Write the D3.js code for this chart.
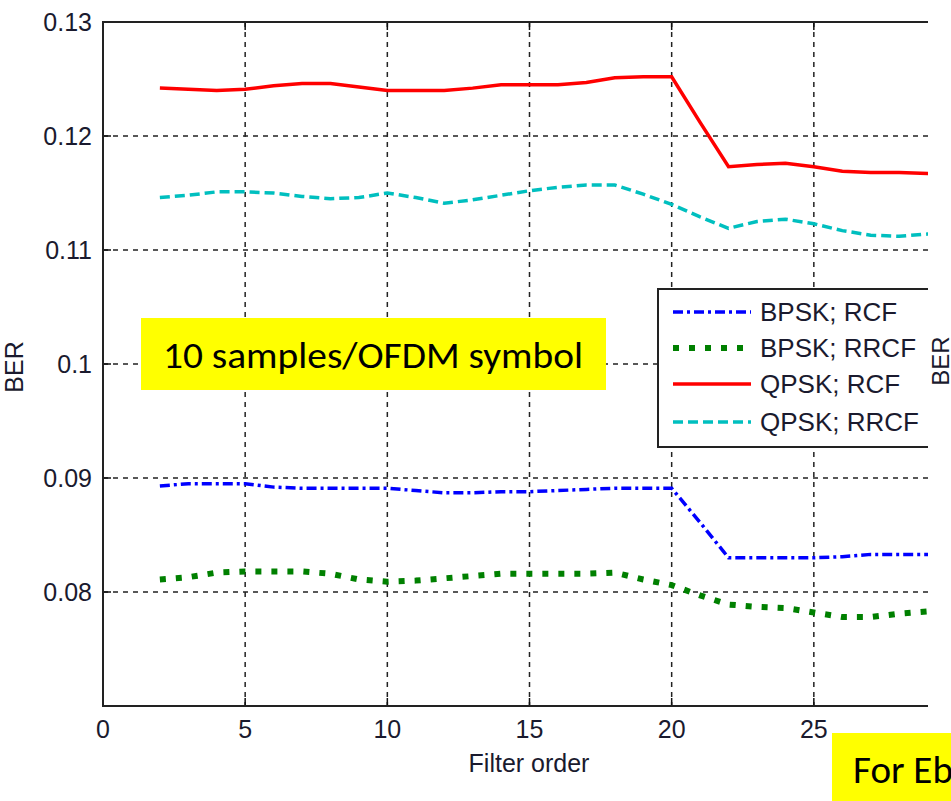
<!DOCTYPE html>
<html>
<head>
<meta charset="utf-8">
<script src="https://cdn.jsdelivr.net/npm/d3@7"></script>
<style>
  body { margin: 0; background: #fff; }
  svg { display: block; }
</style>
</head>
<body>
<div id="chart"></div>
<script>
// Filter orders (x values) and BER for each curve
const filterOrder = [2, 3, 4, 5, 6, 7, 8, 9, 10, 11, 12, 13, 14, 15, 16, 17, 18, 19, 20, 21, 22, 23, 24, 25, 26, 27, 28, 29, 30];

const bpskRcf = [0.0893, 0.0895, 0.0895, 0.0895, 0.0892, 0.0891, 0.0891, 0.0891, 0.0891, 0.0889, 0.0887, 0.0887, 0.0888, 0.0888, 0.0889,
    0.0890, 0.0891, 0.0891, 0.0891, 0.0861, 0.0830, 0.0830, 0.0830, 0.0830, 0.0831, 0.0833, 0.0833, 0.0833, 0.0833];
const bpskRrcf = [0.0811, 0.0813, 0.0817, 0.0818, 0.0818, 0.0818, 0.0816, 0.0811, 0.0809, 0.0810, 0.0812, 0.0814, 0.0816, 0.0816, 0.0816,
    0.0816, 0.0817, 0.0811, 0.0806, 0.0797, 0.0789, 0.0787, 0.0786, 0.0782, 0.0778, 0.0778, 0.0781, 0.0783, 0.0783];
const qpskRcf = [0.1242, 0.1241, 0.1240, 0.1241, 0.1244, 0.1246, 0.1246, 0.1243, 0.1240, 0.1240, 0.1240, 0.1242, 0.1245, 0.1245, 0.1245,
    0.1247, 0.1251, 0.1252, 0.1252, 0.1212, 0.1173, 0.1175, 0.1176, 0.1173, 0.1169, 0.1168, 0.1168, 0.1167, 0.1167];
const qpskRrcf = [0.1146, 0.1148, 0.1151, 0.1151, 0.1150, 0.1147, 0.1145, 0.1146, 0.1150, 0.1146, 0.1141, 0.1144, 0.1148, 0.1152, 0.1155,
    0.1157, 0.1157, 0.1149, 0.1140, 0.1129, 0.1119, 0.1125, 0.1127, 0.1123, 0.1117, 0.1113, 0.1112, 0.1114, 0.1116];

const seriesNames = ["BPSK; RCF", "BPSK; RRCF", "QPSK; RCF", "QPSK; RRCF"];

// Tick values and labels
const xTicks = [0, 5, 10, 15, 20, 25];
const yTicks = [0.13, 0.12, 0.11, 0.1, 0.09, 0.08];
const yTickLabels = ["0.13", "0.12", "0.11", "0.1", "0.09", "0.08"];

// Line styles per series
const styles = [
    { color: "#0000ff", width: 3.5, dash: "10,4,3,4" },
    { color: "#008000", width: 6, dash: "6,10" },
    { color: "#ff0000", width: 3.5, dash: null },
    { color: "#00bfbf", width: 3.5, dash: "10,5" }
];

const width = 951, height = 801;
const font = "'Liberation Sans', Arial, sans-serif";

const svg = d3.select('#chart').append('svg')
    .attr('width', width)
    .attr('height', height);

// Plot area (image is cropped on the right at x = 928)
const x = d3.scaleLinear().domain([0, 30]).range([103, 956]);
const y = d3.scaleLinear().domain([0.07, 0.13]).range([706, 22]);
const cropRight = 928;

svg.append('defs').append('clipPath').attr('id', 'crop')
    .append('rect').attr('x', 0).attr('y', 0).attr('width', cropRight).attr('height', height);

const g = svg.append('g').attr('clip-path', 'url(#crop)');

// Grid lines
g.selectAll('.vgrid').data(xTicks.filter(d => d > 0))
    .enter().append('line')
    .attr('x1', d => x(d)).attr('x2', d => x(d))
    .attr('y1', y(0.13)).attr('y2', y(0.07))
    .attr('stroke', '#222').attr('stroke-width', 1.5).attr('stroke-dasharray', '5,5');

g.selectAll('.hgrid').data(yTicks.filter(d => d < 0.13))
    .enter().append('line')
    .attr('x1', x(0)).attr('x2', x(30))
    .attr('y1', d => y(d)).attr('y2', d => y(d))
    .attr('stroke', '#222').attr('stroke-width', 1.5).attr('stroke-dasharray', '5,5');

// Inward ticks on all four sides
xTicks.forEach(t => {
    g.append('line').attr('x1', x(t)).attr('x2', x(t)).attr('y1', y(0.07)).attr('y2', y(0.07) - 8)
        .attr('stroke', '#111').attr('stroke-width', 1.5);
    g.append('line').attr('x1', x(t)).attr('x2', x(t)).attr('y1', y(0.13)).attr('y2', y(0.13) + 8)
        .attr('stroke', '#111').attr('stroke-width', 1.5);
});
yTicks.forEach(t => {
    g.append('line').attr('x1', x(0)).attr('x2', x(0) + 8).attr('y1', y(t)).attr('y2', y(t))
        .attr('stroke', '#111').attr('stroke-width', 1.5);
});

// Axes box
g.append('rect')
    .attr('x', x(0)).attr('y', y(0.13))
    .attr('width', x(30) - x(0)).attr('height', y(0.07) - y(0.13))
    .attr('fill', 'none').attr('stroke', '#222').attr('stroke-width', 2);

// Data lines
const line = d3.line()
    .x((d, i) => x(filterOrder[i]))
    .y(d => y(d));

[bpskRcf, bpskRrcf, qpskRcf, qpskRrcf].forEach((vals, i) => {
    g.append('path')
        .datum(vals)
        .attr('d', line)
        .attr('fill', 'none')
        .attr('stroke', styles[i].color)
        .attr('stroke-width', styles[i].width)
        .attr('stroke-dasharray', styles[i].dash);
});

// Tick labels
svg.selectAll('.xlab').data(xTicks)
    .enter().append('text')
    .attr('x', d => x(d)).attr('y', 738)
    .attr('text-anchor', 'middle')
    .style('font-family', font).style('font-size', '25px').style('fill', '#1a1a2e')
    .text(d => d);

svg.selectAll('.ylab').data(yTicks)
    .enter().append('text')
    .attr('x', 92).attr('y', d => y(d) + 9)
    .attr('text-anchor', 'end')
    .style('font-family', font).style('font-size', '25px').style('fill', '#1a1a2e')
    .text((d, i) => yTickLabels[i]);

// Axis titles
svg.append('text')
    .attr('x', 529).attr('y', 772)
    .attr('text-anchor', 'middle')
    .style('font-family', font).style('font-size', '25px').style('fill', '#1a1a2e')
    .text('Filter order');

svg.append('text')
    .attr('transform', 'translate(23,367) rotate(-90)')
    .attr('text-anchor', 'middle')
    .style('font-family', font).style('font-size', '25px').style('fill', '#1a1a2e')
    .text('BER');

// Legend
const legend = g.append('g');
legend.append('rect')
    .attr('x', 658).attr('y', 289).attr('width', 320).attr('height', 158)
    .attr('fill', '#fff').attr('stroke', '#222').attr('stroke-width', 2);

const rowY = [312, 348, 384, 422];
seriesNames.forEach((name, i) => {
    legend.append('line')
        .attr('x1', 673).attr('x2', 751).attr('y1', rowY[i]).attr('y2', rowY[i])
        .attr('stroke', styles[i].color)
        .attr('stroke-width', styles[i].width)
        .attr('stroke-dasharray', styles[i].dash);
    legend.append('text')
        .attr('x', 760).attr('y', rowY[i] + 9)
        .style('font-family', font).style('font-size', '26px').style('fill', '#1a1a2e')
        .text(name);
});

// Label of the neighbouring chart, partly visible at the right
svg.append('text')
    .attr('transform', 'translate(949,361) rotate(-90)')
    .attr('text-anchor', 'middle')
    .style('font-family', font).style('font-size', '24px').style('fill', '#1a1a2e')
    .text('BER');

// Yellow annotation boxes
const callFont = "Carlito, Lato, 'Open Sans', sans-serif";
svg.append('rect').attr('x', 141).attr('y', 318).attr('width', 465).attr('height', 72).attr('fill', '#ffff00');
svg.append('text')
    .attr('x', 163).attr('y', 368)
    .attr('textLength', 420).attr('lengthAdjust', 'spacingAndGlyphs')
    .style('font-family', callFont).style('font-size', '37px').style('fill', '#000')
    .text('10 samples/OFDM symbol');

svg.append('rect').attr('x', 832).attr('y', 733).attr('width', 130).attr('height', 70).attr('fill', '#ffff00');
svg.append('text')
    .attr('x', 853).attr('y', 783)
    .style('font-family', callFont).style('font-size', '39px').style('fill', '#000')
    .text('For Eb');
</script>
</body>
</html>
